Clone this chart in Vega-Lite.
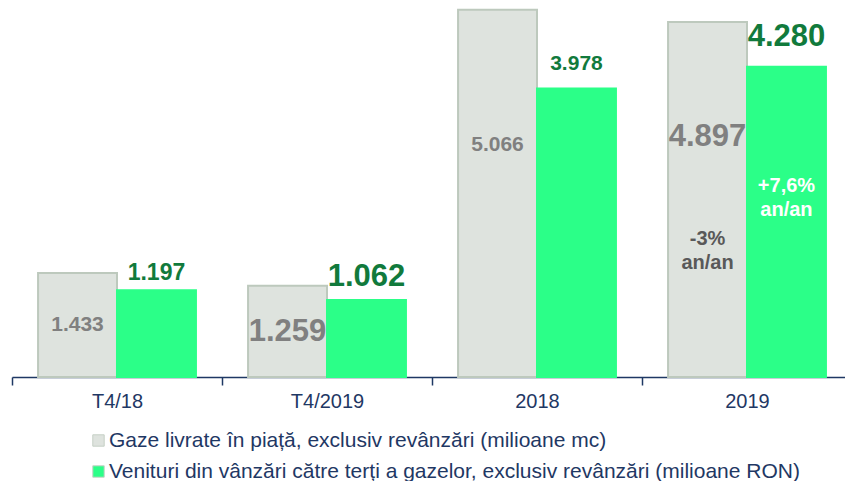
{
  "$schema": "https://vega.github.io/schema/vega-lite/v6.json",
  "autosize": "none",
  "width": 840,
  "height": 377,
  "padding": {"left": 12, "top": 0, "right": 0, "bottom": 104},
  "background": "white",
  "config": {
    "view": {"stroke": null},
    "font": "Liberation Sans",
    "text": {"font": "Liberation Sans"}
  },
  "datasets": {
    "bars": [
      {"cat": "T4/18", "s": "g", "series": "Gaze livrate în piață, exclusiv revânzări (milioane mc)", "value": 1433},
      {"cat": "T4/18", "s": "v", "series": "Venituri din vânzări către terți a gazelor, exclusiv revânzări (milioane RON)", "value": 1197},
      {"cat": "T4/2019", "s": "g", "series": "Gaze livrate în piață, exclusiv revânzări (milioane mc)", "value": 1259},
      {"cat": "T4/2019", "s": "v", "series": "Venituri din vânzări către terți a gazelor, exclusiv revânzări (milioane RON)", "value": 1062},
      {"cat": "2018", "s": "g", "series": "Gaze livrate în piață, exclusiv revânzări (milioane mc)", "value": 5066},
      {"cat": "2018", "s": "v", "series": "Venituri din vânzări către terți a gazelor, exclusiv revânzări (milioane RON)", "value": 3978},
      {"cat": "2019", "s": "g", "series": "Gaze livrate în piață, exclusiv revânzări (milioane mc)", "value": 4897},
      {"cat": "2019", "s": "v", "series": "Venituri din vânzări către terți a gazelor, exclusiv revânzări (milioane RON)", "value": 4280}
    ],
    "labels": [
      {"cat": "T4/18", "s": "g", "text": "1.433", "emph": "normal", "at": 718},
      {"cat": "T4/2019", "s": "g", "text": "1.259", "emph": "big", "at": 621},
      {"cat": "2018", "s": "g", "text": "5.066", "emph": "normal", "at": 3202},
      {"cat": "2019", "s": "g", "text": "4.897", "emph": "big", "at": 3312},
      {"cat": "T4/18", "s": "v", "text": "1.197", "emph": "mid", "at": 1435},
      {"cat": "T4/2019", "s": "v", "text": "1.062", "emph": "big", "at": 1380},
      {"cat": "2018", "s": "v", "text": "3.978", "emph": "normal", "at": 4319},
      {"cat": "2019", "s": "v", "text": "4.280", "emph": "big", "at": 4692}
    ],
    "notes": [
      {"cat": "2019", "s": "g", "text": "-3%\nan/an", "at": 1910},
      {"cat": "2019", "s": "v", "text": "+7,6%\nan/an", "at": 2641}
    ]
  },
  "encoding": {
    "x": {"field": "cat", "type": "nominal", "sort": ["T4/18", "T4/2019", "2018", "2019"],
          "scale": {"paddingInner": 0, "paddingOuter": 0},
          "axis": {"title": null, "labelAngle": 0, "labelFontSize": 20, "labelColor": "#1F3864", "labelFont": "Liberation Sans",
                   "domainColor": "#1F3864", "domainWidth": 1.5, "tickColor": "#1F3864", "tickWidth": 1.5, "tickSize": 8,
                   "tickBand": "extent", "labelPadding": 6}},
    "xOffset": {"field": "s", "type": "nominal", "scale": {"domain": ["g", "v"], "paddingInner": 0, "paddingOuter": 0.33}}
  },
  "layer": [
    {
      "data": {"name": "bars"},
      "mark": {"type": "bar", "strokeWidth": 2},
      "encoding": {
        "y": {"field": "value", "type": "quantitative", "scale": {"domain": [0, 5200], "nice": false, "zero": true}, "axis": null},
        "color": {"field": "series", "type": "nominal",
                  "scale": {"domain": ["Gaze livrate în piață, exclusiv revânzări (milioane mc)", "Venituri din vânzări către terți a gazelor, exclusiv revânzări (milioane RON)"],
                            "range": ["#DEE3DE", "#2BFF88"]},
                  "legend": {"title": null, "orient": "none", "legendX": 76, "legendY": 430, "direction": "vertical",
                             "symbolType": "square", "symbolSize": 130, "symbolStrokeWidth": 1, "symbolStrokeColor": "#C5CFC5",
                             "labelFontSize": 21, "labelColor": "#1F3864", "labelFont": "Liberation Sans", "labelLimit": 900,
                             "rowPadding": 9, "labelOffset": 0}},
        "stroke": {"condition": {"test": "datum.s === 'g'", "value": "#BDC9BD"}, "value": "#2BFF88"}
      }
    },
    {
      "data": {"name": "labels"},
      "mark": {"type": "text", "fontWeight": "bold", "baseline": "middle", "align": "center"},
      "encoding": {
        "y": {"field": "at", "type": "quantitative"},
        "text": {"field": "text"},
        "size": {"condition": [{"test": "datum.emph === 'big'", "value": 31}, {"test": "datum.emph === 'mid'", "value": 23}], "value": 21},
        "color": {"condition": {"test": "datum.s === 'g'", "value": "#808080"}, "value": "#117A3C"}
      }
    },
    {
      "data": {"name": "notes"},
      "mark": {"type": "text", "fontWeight": "bold", "baseline": "middle", "align": "center", "fontSize": 20, "lineBreak": "\n", "lineHeight": 24},
      "encoding": {
        "y": {"field": "at", "type": "quantitative"},
        "text": {"field": "text"},
        "color": {"condition": {"test": "datum.s === 'g'", "value": "#595959"}, "value": "#FFFFFF"}
      }
    }
  ]
}
